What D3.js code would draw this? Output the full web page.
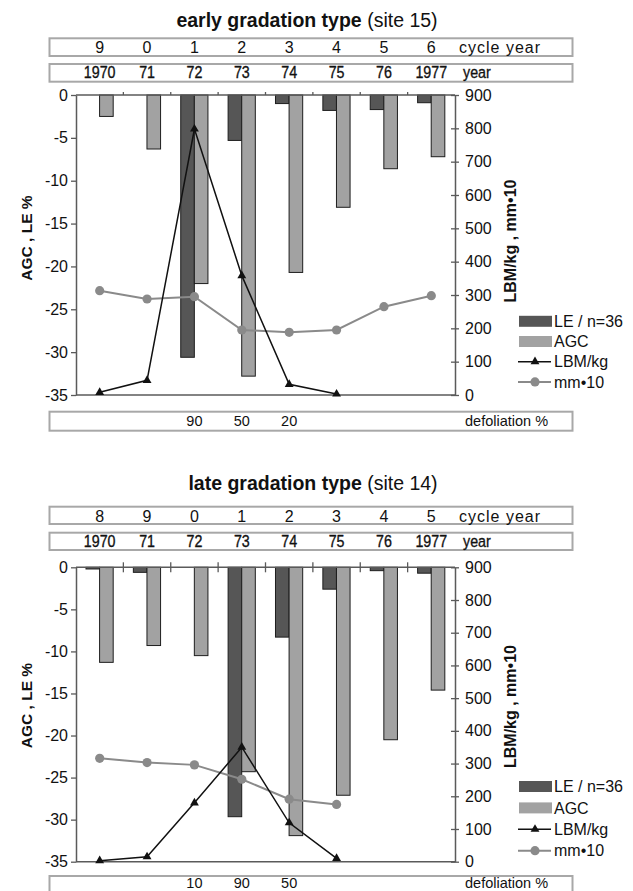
<!DOCTYPE html>
<html>
<head>
<meta charset="utf-8">
<script src="https://cdn.jsdelivr.net/npm/d3@7"></script>
<style>
  body { margin: 0; background: #fff; }
  svg { display: block; font-family: "Liberation Sans", Arial, Helvetica, sans-serif; }
</style>
</head>
<body>
<script>
// ---------- DATA ----------
const years = ["1970", "71", "72", "73", "74", "75", "76", "1977"];
const seriesNames = ["LE", "AGC"];
const leftTicks = [0, -5, -10, -15, -20, -25, -30, -35];
const rightTicks = [0, 100, 200, 300, 400, 500, 600, 700, 800, 900];

// early gradation type (site 15)
const cycleEarly = ["9", "0", "1", "2", "3", "4", "5", "6"];
const leEarly = [0, 0, -30.6, -5.3, -1.0, -1.8, -1.7, -0.9];
const agcEarly = [-2.5, -6.3, -22.0, -32.8, -20.7, -13.1, -8.6, -7.2];
const lbmEarly = [8, 44, 798, 358, 32, 3];
const mmEarly = [313, 288, 295, 195, 188, 195, 265, 298];
const defolEarly = ["", "", "90", "50", "20", "", "", ""];

// late gradation type (site 14)
const cycleLate = ["8", "9", "0", "1", "2", "3", "4", "5"];
const leLate = [-0.2, -0.6, 0, -29.65, -8.3, -2.6, -0.4, -0.7];
const agcLate = [-11.3, -9.3, -10.5, -24.3, -31.9, -27.1, -20.5, -14.6];
const lbmLate = [3, 15, 180, 350, 119, 10];
const mmLate = [316, 303, 296, 252, 191, 175];
const defolLate = ["", "", "10", "90", "50", "", "", ""];

const legendLabels = ["LE / n=36", "AGC", "LBM/kg", "mm\u202210"];

// ---------- STYLE ----------
const C = {
  le: "#565656", agc: "#a2a2a2", barStroke: "#1e1e1e",
  axis: "#5a5a5a", box: "#a8a8a8", mm: "#8a8a8a", lbm: "#111", text: "#111"
};

const svg = d3.select("body").append("svg").attr("width", 633).attr("height", 891);

const charts = [
  {
    titleBold: "early gradation type", titleNorm: " (site 15)", titleX: 307, titleY: 27,
    cycle: cycleEarly, le: leEarly, agc: agcEarly, lbm: lbmEarly, mm: mmEarly, defol: defolEarly,
    cycleBox: [38.3, 56], cycleBase: 53.2, yearBox: [64, 81.7], yearBase: 78.2,
    plot: [95, 395], defBox: [411.7, 430.7], defBase: 426,
    tickUp: 3, tickDown: 0,
    leftLabelY: 238, rightLabelY: 241,
    legendY: 321.3, legendStep: 20.2
  },
  {
    titleBold: "late gradation type", titleNorm: " (site 14)", titleX: 313, titleY: 489.5,
    cycle: cycleLate, le: leLate, agc: agcLate, lbm: lbmLate, mm: mmLate, defol: defolLate,
    cycleBox: [506.7, 524], cycleBase: 521.5, yearBox: [532.7, 550], yearBase: 547.2,
    plot: [567.3, 861.7], defBox: [876, 896], defBase: 887.5,
    tickUp: 5, tickDown: 5,
    leftLabelY: 705.5, rightLabelY: 706.5,
    legendY: 786.5, legendStep: 21.4
  }
];

const PL = 76, PR = 455, BOXL = 49.5, BOXR = 572.5;

charts.forEach(cfg => {
  const g = svg.append("g");
  const [pTop, pBot] = cfg.plot;

  const x = d3.scaleBand().domain(years).range([PL, PR]);
  const bw = x.bandwidth();
  const x1 = d3.scaleBand().domain(seriesNames).range([bw / 2 - 13.7, bw / 2 + 13.5]);
  const yL = d3.scaleLinear().domain([-35, 0]).range([pBot, pTop]);
  const yR = d3.scaleLinear().domain([0, 900]).range([pBot, pTop]);
  const cx = d => x(d) + bw / 2;

  // title
  const t = g.append("text").attr("x", cfg.titleX).attr("y", cfg.titleY)
    .attr("text-anchor", "middle").attr("font-size", 19.5).attr("fill", C.text);
  t.append("tspan").attr("font-weight", "bold").text(cfg.titleBold);
  t.append("tspan").text(cfg.titleNorm);

  // header boxes
  [cfg.cycleBox, cfg.yearBox, cfg.defBox].forEach(b => {
    g.append("rect").attr("x", BOXL).attr("y", b[0]).attr("width", BOXR - BOXL)
      .attr("height", b[1] - b[0]).attr("fill", "#fff").attr("stroke", C.box).attr("stroke-width", 2);
  });

  // cycle year row
  g.selectAll(".cyc").data(years).join("text")
    .attr("x", d => cx(d)).attr("y", cfg.cycleBase).attr("text-anchor", "middle")
    .attr("font-size", 16).attr("fill", C.text)
    .text((d, i) => cfg.cycle[i]);
  g.append("text").attr("x", 459).attr("y", cfg.cycleBase).attr("font-size", 16)
    .attr("letter-spacing", 1).attr("fill", C.text).text("cycle year");

  // year row (condensed look)
  g.selectAll(".yr").data(years).join("text")
    .attr("transform", d => `translate(${cx(d)},${cfg.yearBase}) scale(0.84,1)`)
    .attr("text-anchor", "middle")
    .attr("font-size", 17).attr("fill", C.text)
    .attr("stroke", C.text).attr("stroke-width", 0.35)
    .text(d => d);
  g.append("text").attr("transform", `translate(463,${cfg.yearBase}) scale(0.84,1)`)
    .attr("font-size", 17).attr("fill", C.text)
    .attr("stroke", C.text).attr("stroke-width", 0.35).text("year");

  // defoliation row
  g.selectAll(".df").data(years).join("text")
    .attr("x", d => cx(d)).attr("y", cfg.defBase).attr("text-anchor", "middle")
    .attr("font-size", 14.5).attr("fill", C.text)
    .text((d, i) => cfg.defol[i]);
  g.append("text").attr("x", 465).attr("y", cfg.defBase).attr("font-size", 14.5)
    .attr("fill", C.text).text("defoliation %");

  // bars
  const barData = [];
  years.forEach((yr, i) => {
    barData.push({ yr, s: "LE", v: cfg.le[i] });
    barData.push({ yr, s: "AGC", v: cfg.agc[i] });
  });
  g.selectAll(".bar").data(barData.filter(d => d.v !== 0)).join("rect")
    .attr("x", d => x(d.yr) + x1(d.s))
    .attr("y", yL(0))
    .attr("width", x1.bandwidth())
    .attr("height", d => yL(d.v) - yL(0))
    .attr("fill", d => d.s === "LE" ? C.le : C.agc)
    .attr("stroke", C.barStroke).attr("stroke-width", 1);

  // left axis
  const ax = g.append("g").attr("transform", `translate(${PL},0)`)
    .call(d3.axisLeft(yL).tickValues(leftTicks).tickSize(5).tickSizeOuter(0).tickPadding(3)
      .tickFormat(d => String(d)));
  ax.select(".domain").attr("stroke", C.axis).attr("stroke-width", 1.5);
  ax.selectAll(".tick line").attr("stroke", C.axis).attr("stroke-width", 1.3);
  ax.selectAll(".tick text").attr("font-size", 16).attr("fill", C.text)
    .attr("font-family", "'Liberation Sans', Arial, sans-serif");

  // right axis
  const ar = g.append("g").attr("transform", `translate(${PR},0)`)
    .call(d3.axisRight(yR).tickValues(rightTicks).tickSize(4).tickSizeOuter(0).tickPadding(6));
  ar.select(".domain").attr("stroke", C.axis).attr("stroke-width", 1.5);
  ar.selectAll(".tick line").attr("x1", -4).attr("stroke", C.axis).attr("stroke-width", 1.3);
  ar.selectAll(".tick text").attr("font-size", 16).attr("fill", C.text)
    .attr("font-family", "'Liberation Sans', Arial, sans-serif");

  // bottom frame line and zero line with category ticks
  g.append("line").attr("x1", PL).attr("x2", PR).attr("y1", pBot).attr("y2", pBot)
    .attr("stroke", C.axis).attr("stroke-width", 1.5);
  g.append("line").attr("x1", PL).attr("x2", PR).attr("y1", yL(0)).attr("y2", yL(0))
    .attr("stroke", C.axis).attr("stroke-width", 1.5);
  g.selectAll(".ctick").data(years.slice(1)).join("line")
    .attr("x1", d => x(d)).attr("x2", d => x(d))
    .attr("y1", yL(0) - cfg.tickUp).attr("y2", yL(0) + cfg.tickDown)
    .attr("stroke", C.axis).attr("stroke-width", 1.3);

  // axis titles
  g.append("text").attr("transform", `translate(27,${cfg.leftLabelY}) rotate(-90)`)
    .attr("text-anchor", "middle").attr("dy", "0.35em").attr("font-size", 15.5)
    .attr("font-weight", "bold").attr("fill", C.text).text("AGC , LE %");
  g.append("text").attr("transform", `translate(510,${cfg.rightLabelY}) rotate(-90)`)
    .attr("text-anchor", "middle").attr("dy", "0.35em").attr("font-size", 16)
    .attr("font-weight", "bold").attr("fill", C.text).text("LBM/kg , mm\u202210");

  // mm*10 line
  const line = d3.line().x((d, i) => cx(years[i])).y(d => yR(d));
  g.append("path").datum(cfg.mm).attr("d", line).attr("fill", "none")
    .attr("stroke", C.mm).attr("stroke-width", 2);
  g.selectAll(".mmpt").data(cfg.mm).join("circle")
    .attr("cx", (d, i) => cx(years[i])).attr("cy", d => yR(d)).attr("r", 4.6).attr("fill", C.mm);

  // LBM line
  g.append("path").datum(cfg.lbm).attr("d", line).attr("fill", "none")
    .attr("stroke", C.lbm).attr("stroke-width", 1.5);
  const tri = d3.symbol().type(d3.symbolTriangle).size(34);
  g.selectAll(".lbmpt").data(cfg.lbm).join("path")
    .attr("d", tri).attr("fill", C.lbm)
    .attr("transform", (d, i) => `translate(${cx(years[i])},${yR(d)})`);

  // legend
  const lg = g.append("g");
  legendLabels.forEach((lab, i) => {
    const yc = cfg.legendY + i * cfg.legendStep;
    if (i < 2) {
      lg.append("rect").attr("x", 519).attr("y", yc - 5.5).attr("width", 33).attr("height", 11)
        .attr("fill", i === 0 ? C.le : C.agc);
    } else if (i === 2) {
      lg.append("line").attr("x1", 518).attr("x2", 551).attr("y1", yc).attr("y2", yc)
        .attr("stroke", C.lbm).attr("stroke-width", 1.5);
      lg.append("path").attr("d", tri).attr("fill", C.lbm).attr("transform", `translate(535,${yc})`);
    } else {
      lg.append("line").attr("x1", 518).attr("x2", 551).attr("y1", yc).attr("y2", yc)
        .attr("stroke", C.mm).attr("stroke-width", 2);
      lg.append("circle").attr("cx", 535).attr("cy", yc).attr("r", 4.6).attr("fill", C.mm);
    }
    lg.append("text").attr("x", 554).attr("y", yc + 5.6).attr("font-size", 16)
      .attr("fill", C.text).text(lab);
  });
});
</script>
</body>
</html>
